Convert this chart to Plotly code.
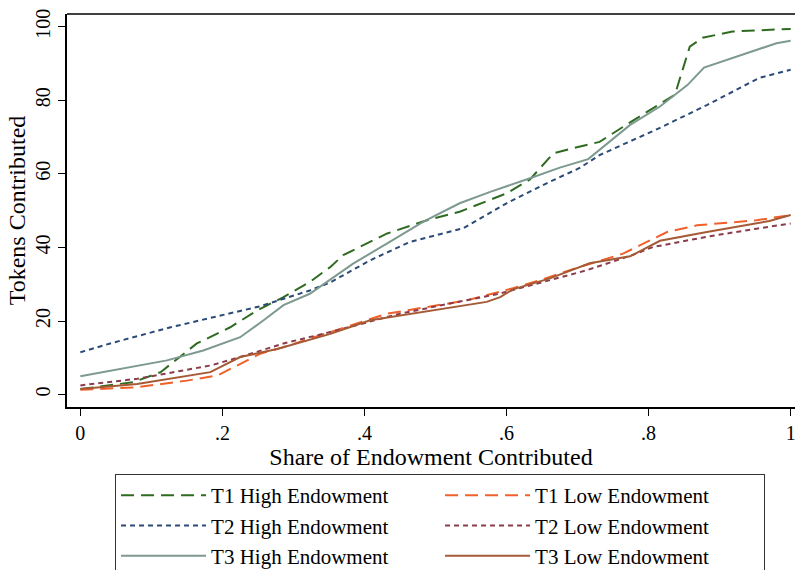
import plotly.graph_objects as go

# Share of endowment contributed (x) vs tokens contributed (y)
t1_high_x = [0.0, 0.075, 0.113, 0.164, 0.211, 0.249, 0.286, 0.323, 0.352, 0.370, 0.432, 0.488, 0.534,
             0.600, 0.633, 0.666, 0.694, 0.731, 0.774, 0.837, 0.858, 0.876, 0.918, 1.0]
t1_high_y = [1.5, 3.4, 6.1, 13.9, 18.3, 22.9, 26.5, 30.6, 34.7, 37.9, 43.8, 47.4, 49.7,
             54.7, 58.5, 65.6, 67.0, 68.7, 74.0, 81.5, 94.6, 97.0, 98.7, 99.4]

t2_high_x = [0.0, 0.042, 0.127, 0.211, 0.253, 0.323, 0.352, 0.408, 0.464, 0.539, 0.600, 0.657,
             0.703, 0.731, 0.816, 0.882, 0.956, 1.0]
t2_high_y = [11.5, 13.9, 18.3, 22.0, 24.0, 28.3, 30.5, 36.5, 41.5, 45.2, 52.0, 57.5,
             61.6, 65.1, 72.5, 78.7, 86.1, 88.3]

t3_high_x = [0.0, 0.056, 0.122, 0.173, 0.225, 0.258, 0.286, 0.323, 0.352, 0.384, 0.432, 0.483,
             0.534, 0.577, 0.633, 0.675, 0.715, 0.774, 0.816, 0.855, 0.878, 0.980, 1.0]
t3_high_y = [5.0, 7.0, 9.3, 12.0, 15.6, 20.2, 24.3, 27.4, 31.2, 35.6, 41.1, 47.0,
             52.0, 55.1, 58.8, 61.7, 64.0, 73.3, 78.3, 84.2, 88.9, 95.5, 96.2]

t1_low_x = [0.0, 0.080, 0.150, 0.193, 0.235, 0.253, 0.286, 0.352, 0.432, 0.544, 0.609, 0.647,
            0.703, 0.764, 0.826, 0.868, 0.952, 1.0]
t1_low_y = [1.3, 2.0, 3.8, 5.2, 9.3, 11.1, 12.9, 17.0, 22.0, 25.6, 28.9, 31.1,
            34.7, 38.3, 44.2, 46.0, 47.4, 48.8]

t2_low_x = [0.0, 0.080, 0.183, 0.225, 0.286, 0.352, 0.450, 0.591, 0.713, 0.778, 0.806, 0.882,
            0.952, 1.0]
t2_low_y = [2.5, 4.3, 7.9, 10.2, 13.9, 17.0, 22.0, 27.5, 33.8, 38.0, 40.1, 42.9,
            45.1, 46.5]

t3_low_x = [0.0, 0.080, 0.183, 0.225, 0.277, 0.352, 0.408, 0.450, 0.572, 0.591, 0.609, 0.661,
            0.717, 0.774, 0.816, 0.882, 0.970, 1.0]
t3_low_y = [1.5, 2.9, 6.1, 10.2, 12.4, 16.5, 20.2, 21.5, 25.2, 26.5, 28.6, 31.6,
            35.7, 37.6, 41.8, 44.2, 47.2, 48.8]

x_ticks = [0, 0.2, 0.4, 0.6, 0.8, 1]
x_tick_labels = ["0", ".2", ".4", ".6", ".8", "1"]
y_ticks = [0, 20, 40, 60, 80, 100]

FONT = "Liberation Serif"

series = [
    ("T1 High Endowment", t1_high_x, t1_high_y, "#2e6b21", "13px,7px"),
    ("T1 Low Endowment", t1_low_x, t1_low_y, "#f0602a", "13px,7px"),
    ("T2 High Endowment", t2_high_x, t2_high_y, "#2b4a78", "5px,4px"),
    ("T2 Low Endowment", t2_low_x, t2_low_y, "#8a3c4a", "5px,4px"),
    ("T3 High Endowment", t3_high_x, t3_high_y, "#7d9990", "solid"),
    ("T3 Low Endowment", t3_low_x, t3_low_y, "#a55a35", "solid"),
]

fig = go.Figure()
for name, xs, ys, color, dash in series:
    fig.add_trace(go.Scatter(
        x=xs, y=ys, mode="lines", name=name,
        line=dict(color=color, width=2, dash=dash),
    ))

fig.update_layout(
    width=795,
    height=570,
    margin=dict(l=67, r=0, t=14, b=163, autoexpand=False),
    paper_bgcolor="white",
    plot_bgcolor="white",
    font=dict(family=FONT, size=20, color="black"),
    showlegend=True,
    legend=dict(
        orientation="h",
        x=0.066, y=-0.1705, xanchor="left", yanchor="top",
        entrywidth=224, entrywidthmode="pixels",
        itemwidth=85,
        bordercolor="#333333", borderwidth=1,
        font=dict(family=FONT, size=21, color="black"),
        tracegroupgap=0,
    ),
    shapes=[dict(type="line", xref="paper", yref="paper", x0=0, x1=1, y0=1, y1=1,
                 line=dict(color="black", width=1.5))],
)
fig.update_xaxes(
    range=[-0.0188, 1.0061],
    tickvals=x_ticks, ticktext=x_tick_labels,
    ticklabeloverflow="allow",
    ticks="outside", ticklen=7, tickwidth=1.2, tickcolor="black",
    showline=True, linecolor="black", linewidth=1.5,
    showgrid=False, zeroline=False,
    title=dict(text="Share of Endowment Contributed", standoff=0),
)
fig.update_yaxes(
    range=[-3.37, 103.45],
    tickvals=y_ticks,
    tickangle=-90,
    ticks="outside", ticklen=7, tickwidth=1.2, tickcolor="black",
    showline=True, linecolor="black", linewidth=1.5,
    showgrid=False, zeroline=False,
    title=dict(text="Tokens Contributed", standoff=0),
)

# the page body has a default 8px margin; drop it so the figure sits at the window corner
fig.write_html(
    "out.html",
    config={"displayModeBar": False},
    post_script="document.body.style.margin='0';",
)
